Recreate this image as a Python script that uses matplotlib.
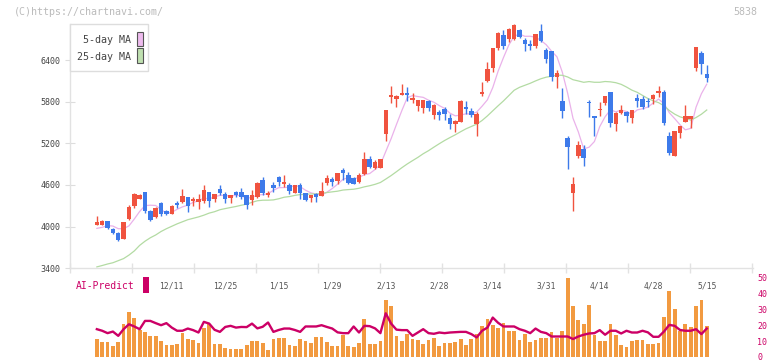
import numpy as np
import pandas as pd
import matplotlib
matplotlib.use("Agg")
import matplotlib.pyplot as plt
from matplotlib.patches import Rectangle

nan = np.nan

opens = [3988, 4028, 4028, 4076, 3966, 3904, 3822, 4110, 4297, 4403,
         4499, 4230, 4134, 4340, 4225, 4187, 4340, 4360, 4432, 4366,
         4350, 4374, 4499, 4403, 4542, 4470, 4417, 4503, 4503, 4456,
         4384, 4427, 4672, 4460, 4600, 4715, 4614, 4600, 4484, 4600,
         4484, 4417, 4470, 4441, 4630, 4686, 4662, 4815, 4743, 4700,
         4643, 4758, 4974, 4849, 4849, 5334, 5870, 5845, 5895, 5920,
         5830, 5737, 5713, 5809, 5607, 5650, 5694, 5569, 5478, 5511,
         5727, 5665, 5478, 5915, 6097, 6284, 6572, 6759, 6702, 6702,
         6831, 6687, 6635, 6601, 6817, 6543, 6529, 6159, 5809, 5276,
         4489, 5017, 5118, 5795, 5593, 5679, 5785, 5939, 5483, 5641,
         5650, 5569, 5852, 5838, 5814, 5838, 5924, 5939, 5305, 5017,
         5348, 5511, 5550, 6284, 6500, 6198]
highs = [3996, 4153, 4100, 4085, 3975, 3918, 4067, 4311, 4489, 4465,
         4499, 4244, 4278, 4355, 4239, 4311, 4369, 4537, 4432, 4428,
         4465, 4600, 4505, 4475, 4595, 4499, 4456, 4513, 4556, 4460,
         4527, 4640, 4715, 4513, 4647, 4729, 4743, 4623, 4600, 4623,
         4490, 4460, 4480, 4643, 4743, 4719, 4777, 4839, 4782, 4719,
         4767, 5070, 5017, 4959, 4974, 5680, 6025, 5900, 6055, 6010,
         5920, 5823, 5830, 5823, 5766, 5680, 5727, 5617, 5535, 5823,
         5809, 5713, 5650, 6083, 6370, 6572, 6803, 6831, 6865, 6918,
         6846, 6721, 6687, 6774, 6918, 6567, 6529, 6255, 5996, 5305,
         4715, 5233, 5175, 5823, 5593, 5795, 5881, 5939, 5651, 5747,
         5665, 5679, 5910, 5881, 5852, 5910, 6025, 5967, 5362, 5377,
         5449, 5751, 5598, 6587, 6529, 6327]
lows = [3988, 4020, 4020, 3960, 3899, 3798, 3817, 4100, 4263, 4393,
        4201, 4081, 4129, 4158, 4167, 4177, 4273, 4340, 4216, 4297,
        4259, 4335, 4287, 4350, 4455, 4335, 4335, 4427, 4393, 4259,
        4311, 4417, 4460, 4431, 4494, 4590, 4575, 4470, 4484, 4403,
        4369, 4355, 4355, 4441, 4600, 4590, 4614, 4671, 4614, 4609,
        4623, 4743, 4839, 4825, 4839, 5238, 5785, 5730, 5890, 5810,
        5780, 5665, 5641, 5670, 5550, 5535, 5535, 5406, 5362, 5511,
        5622, 5578, 5305, 5881, 6083, 6227, 6543, 6558, 6663, 6687,
        6721, 6534, 6543, 6577, 6663, 6361, 6102, 6001, 5569, 4834,
        4230, 4983, 4878, 5583, 5310, 5598, 5747, 5440, 5382, 5627,
        5512, 5497, 5727, 5694, 5718, 5770, 5871, 5463, 5036, 5017,
        5276, 5511, 5425, 6241, 6198, 6083]
closes = [3996, 4067, 4086, 3980, 3913, 3807, 4067, 4287, 4475, 4456,
          4230, 4095, 4268, 4182, 4187, 4302, 4307, 4446, 4302, 4393,
          4398, 4527, 4369, 4470, 4484, 4403, 4456, 4456, 4422, 4311,
          4456, 4633, 4484, 4489, 4556, 4643, 4643, 4513, 4600, 4484,
          4383, 4455, 4427, 4513, 4703, 4647, 4767, 4777, 4633, 4619,
          4743, 4974, 4854, 4926, 4974, 5680, 5895, 5880, 5920, 5895,
          5850, 5823, 5823, 5713, 5751, 5607, 5622, 5478, 5521, 5809,
          5694, 5607, 5622, 5939, 6270, 6572, 6788, 6601, 6846, 6903,
          6731, 6625, 6606, 6774, 6673, 6419, 6159, 6207, 5670, 5151,
          4614, 5175, 4993, 5785, 5559, 5694, 5881, 5497, 5636, 5679,
          5598, 5679, 5814, 5723, 5795, 5895, 5958, 5492, 5060, 5377,
          5449, 5593, 5598, 6587, 6342, 6140]

volume = [nan, 11.3, 9.6, 9.6, 6.9, 9.6, 20.6, 28.1, 24.4, 16.9,
          15.8, 13.1, 13.1, 10.0, 7.5, 7.5, 8.1, 15.4, 11.3, 10.8,
          8.8, 18.1, 20.6, 8.1, 8.1, 5.6, 5.0, 5.0, 5.0, 7.5,
          10.0, 10.0, 8.8, 4.6, 11.3, 11.9, 11.9, 7.5, 6.9, 11.3,
          10.0, 8.8, 12.5, 12.5, 9.4, 6.9, 6.9, 13.8, 6.9, 6.3,
          8.8, 23.8, 8.1, 8.1, 10.0, 35.6, 31.9, 13.1, 10.0, 14.4,
          11.3, 10.6, 8.1, 10.6, 11.9, 6.9, 8.8, 8.8, 9.4, 11.3,
          7.5, 11.3, 14.4, 19.4, 23.8, 20.0, 18.1, 21.3, 16.3, 16.5,
          10.8, 14.4, 9.6, 10.6, 11.9, 11.9, 15.8, 11.9, 16.3, 49.4,
          31.9, 23.1, 20.6, 32.5, 13.8, 9.8, 9.8, 20.6, 13.8, 7.5,
          6.3, 10.0, 10.6, 10.8, 8.1, 8.1, 8.8, 25.2, 41.3, 30.0,
          16.5, 20.6, 18.8, 31.9, 35.6, 19.2]
ai_predict = [nan, 17.5, 16.5, 15.0, 16.0, 13.3, 17.5, 20.6, 19.2, 17.5,
              22.7, 22.7, 21.3, 20.0, 21.3, 18.5, 16.5, 16.5, 17.9, 16.9,
              15.4, 22.1, 21.0, 17.1, 15.8, 18.9, 19.6, 18.5, 18.9, 18.8,
              21.0, 18.0, 19.0, 21.7, 15.8, 17.0, 17.9, 17.9, 17.0, 15.8,
              19.2, 19.2, 19.2, 20.0, 18.9, 17.9, 15.5, 15.0, 15.0, 19.2,
              15.4, 19.6, 19.4, 18.0, 15.0, 27.5, 21.0, 17.2, 16.9, 16.9,
              13.3, 15.4, 17.5, 15.0, 14.6, 15.4, 15.0, 15.4, 15.6, 15.8,
              15.8, 14.4, 12.3, 16.5, 18.5, 24.8, 21.5, 19.2, 19.2, 19.2,
              17.5, 16.5, 15.0, 17.9, 15.8, 15.0, 12.9, 12.9, 12.9, 12.9,
              11.3, 12.9, 14.0, 14.8, 15.0, 16.9, 14.0, 16.5, 16.5, 14.8,
              16.5, 15.4, 15.4, 16.5, 15.5, 12.7, 12.7, 16.0, 20.2, 19.6,
              17.0, 16.5, 16.5, 17.5, 14.4, 17.9]

# moving averages before enough closes are in the window
ma5_head = [3975, 3990, 4015]
ma25_head = [3420, 3440, 3462, 3480, 3510, 3540, 3590, 3650, 3730, 3790,
             3840, 3880, 3930, 3970, 4005, 4040, 4070, 4100, 4120, 4140,
             4165, 4195, 4215]

date_labels = ["12/11", "12/25", "1/15", "1/29", "2/13", "2/28",
               "3/14", "3/31", "4/14", "4/28", "5/15"]
date_idx = [15, 25, 35, 45, 55, 65, 75, 85, 95, 105, 115]
price_ticks = [3400, 4000, 4600, 5200, 5800, 6400]
ai_ticks = [0, 10, 20, 30, 40, 50]

RED = "#f0533f"
BLUE = "#3d7aea"
MAGENTA = "#cc0066"
MONO = "DejaVu Sans Mono"

W, H = 772, 361


def fx(px):
    return px / W


def fy(py):
    return 1 - py / H


o = np.array(opens, float)
c = np.array(closes, float)
x = np.arange(len(c))

ma5 = pd.Series(c).rolling(5).mean()
ma5.iloc[1:4] = ma5_head
ma25 = pd.Series(c).rolling(25).mean()
ma25.iloc[1:24] = ma25_head

step = 5.35
x0 = 91.5
xl = (70.3 - x0) / step
xr = (753 - x0) / step
ppx = 600 / 41.66
ytop = 3400 + (268.3 - 20) * ppx

fig = plt.figure(figsize=(W / 100, H / 100), dpi=100)

ax2 = fig.add_axes([fx(70.3), fy(357), fx(753) - fx(70.3), fy(277.5) - fy(357)])
ax2.set_facecolor("none")
ax2.bar(x, volume, width=0.7, color="#f29a40", zorder=1)
ax2.plot(x, ai_predict, color=MAGENTA, lw=1.7, zorder=2)
ax2.set_xlim(xl, xr)
ax2.set_ylim(0, 50)
for s in ax2.spines.values():
    s.set_visible(False)
ax2.set_xticks([])
ax2.yaxis.tick_right()
ax2.set_yticks(ai_ticks)
ax2.set_yticklabels([str(v) for v in ai_ticks], fontfamily=MONO)
ax2.tick_params(axis="y", length=0, labelsize=6, labelcolor=MAGENTA, pad=3)

ax = fig.add_axes([fx(70.3), fy(268.3), fx(753) - fx(70.3), fy(20) - fy(268.3)])
ax.set_facecolor("none")

ax.plot(x, ma5, color="#eab2ea", lw=0.9, zorder=1)
ax.plot(x, ma25, color="#b3dba3", lw=0.9, zorder=1)

colors = np.where(c >= o, RED, BLUE)
ax.vlines(x, lows, highs, colors=colors, lw=1.0, zorder=2)
ax.bar(x, np.maximum(np.abs(c - o), 12), bottom=np.minimum(o, c),
       width=0.84, color=colors, zorder=3)

ax.set_xlim(xl, xr)
ax.set_ylim(3400, ytop)
for s in ["top", "right"]:
    ax.spines[s].set_visible(False)
for s in ["left", "bottom"]:
    ax.spines[s].set_color("#e2e2e2")
    ax.spines[s].set_linewidth(1.0)
ax.spines["left"].set_bounds(3400, 3400 + (268.3 - 24) * ppx)

ax.set_yticks(price_ticks)
ax.set_yticklabels([str(v) for v in price_ticks], fontfamily=MONO)
ax.tick_params(axis="y", direction="inout", length=7, width=0.8,
               color="#dddddd", labelsize=6, labelcolor="#444444", pad=3.5)

ax.set_xticks(date_idx)
ax.set_xticklabels(date_labels, fontfamily=MONO)
ax.tick_params(axis="x", which="major", length=0, labelsize=5.8,
               labelcolor="#555555", pad=9.5)
ax.set_xticks([xl + 11.589 * k for k in range(12)], minor=True)
ax.tick_params(axis="x", which="minor", direction="inout", length=7,
               width=1.0, color="#e2e2e2")

fig.text(fx(14), fy(12), "(C)https://chartnavi.com/", fontsize=7.2,
         color="#bbbbbb", fontfamily=MONO, va="center", ha="left")
fig.text(fx(757), fy(12), "5838", fontsize=7.2, color="#bbbbbb",
         fontfamily=MONO, va="center", ha="right")

fig.add_artist(Rectangle((fx(70.3), fy(71.3)), fx(148.3) - fx(70.3), fy(24) - fy(71.3),
                         transform=fig.transFigure, facecolor="white",
                         edgecolor="#dddddd", lw=1.0, zorder=5))
fig.text(fx(131), fy(40), "5-day MA", fontsize=7.2, color="#444444",
         fontfamily=MONO, va="center", ha="right", zorder=6)
fig.text(fx(131), fy(57), "25-day MA", fontsize=7.2, color="#444444",
         fontfamily=MONO, va="center", ha="right", zorder=6)
fig.add_artist(Rectangle((fx(136.7), fy(46)), fx(142.7) - fx(136.7), fy(31.7) - fy(46),
                         transform=fig.transFigure, facecolor="#eebbee",
                         edgecolor="#555555", lw=0.8, zorder=6))
fig.add_artist(Rectangle((fx(136.7), fy(63)), fx(142.7) - fx(136.7), fy(48.3) - fy(63),
                         transform=fig.transFigure, facecolor="#bfe0b0",
                         edgecolor="#555555", lw=0.8, zorder=6))

fig.text(fx(76), fy(286), "AI-Predict", fontsize=7, color=MAGENTA,
         fontfamily=MONO, va="center", ha="left")
fig.add_artist(Rectangle((fx(142.5), fy(293)), fx(148.5) - fx(142.5), fy(277) - fy(293),
                         transform=fig.transFigure, facecolor=MAGENTA,
                         edgecolor="none", zorder=5))

fig.savefig("out.png", dpi=100)
